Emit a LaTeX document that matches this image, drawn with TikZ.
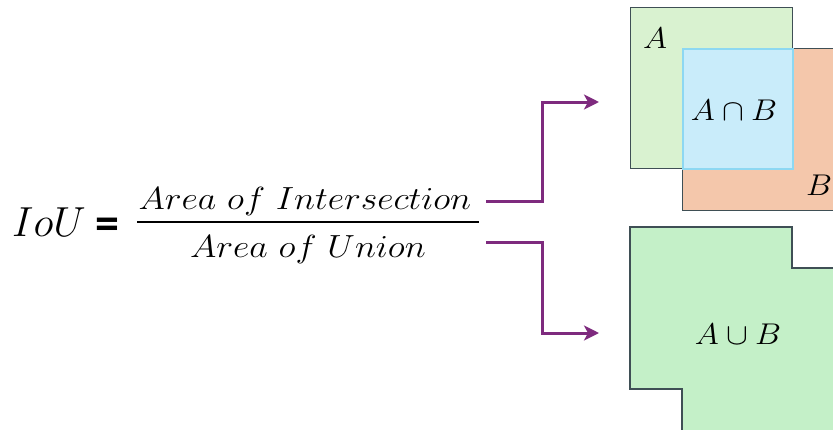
\RequirePackage{fix-cm}
\documentclass[tikz,border=0pt]{standalone}
\usepackage{graphicx}
\usepackage{fontspec}
\newfontfamily\eqfont{Carlito}
\usetikzlibrary{arrows.meta}
\newcommand\stretchx[2]{\scalebox{#1}[1]{#2}}
\definecolor{setA}{HTML}{D9F2D0}
\definecolor{setB}{HTML}{F4C7AB}
\definecolor{interfill}{HTML}{C9ECFA}
\definecolor{interline}{HTML}{8DD8F2}
\definecolor{unionfill}{HTML}{C4F0C8}
\definecolor{edge}{HTML}{3F4F55}
\definecolor{flow}{HTML}{7E2A7E}
\tikzset{
  setbox/.style={draw=edge, line width=1.3pt, rectangle, inner sep=0pt, anchor=north west},
  arr/.style={draw=flow, line width=3pt, -{Stealth[length=15pt,width=15pt,inset=4pt]}},
  formula/.style={inner sep=0pt, anchor=base, font=\fontsize{32}{36}\selectfont},
  setlabel/.style={inner sep=0pt, font=\fontsize{30}{34}\selectfont},
}
\begin{document}
\begin{tikzpicture}[x=1pt,y=-1pt]
\useasboundingbox (0,0) rectangle (833,429);

% IoU formula
\node[inner sep=0pt, anchor=base, font=\fontsize{42}{46}\selectfont] (iou) at (49,236) {$IoU$};
\node[inner sep=0pt, font=\eqfont\bfseries\fontsize{48}{52}\selectfont] (eq) at (107,229) {=};
\node[formula] (num) at (305,209) {\stretchx{1.12}{$Area\ of\ Intersection$}};
\node[formula] (den) at (308,257) {\stretchx{1.12}{$Area\ of\ Union$}};
\draw[line width=2pt] (137,222) coordinate (barL) -- (479,222) coordinate (barR);

% sets A and B with their intersection
\node[setbox, fill=setA, minimum width=162pt, minimum height=161pt] (boxA) at (630,7) {};
\node[setbox, fill=setB, minimum width=170pt, minimum height=162pt] (boxB) at (682,48) {};
\node[setbox, draw=interline, line width=1.6pt, fill=interfill, minimum width=110pt, minimum height=120pt] (inter) at (682,48) {};
\node[setlabel] (labA) at (655,38) {\stretchx{1.09}{$A$}};
\node[setlabel] (labB) at (819,185) {\stretchx{1.09}{$B$}};
\node[setlabel] (labI) at (734,110) {\stretchx{1.09}{$A\cap B$}};

% union of A and B
\draw[draw=edge, line width=1.3pt, fill=unionfill]
  (630,227) -- (792,227) -- (792,268) -- (850,268) -- (850,440)
  -- (682,440) -- (682,389) -- (630,389) -- cycle;
\node[setlabel] (labU) at (738,334) {\stretchx{1.09}{$A\cup B$}};

% connectors
\coordinate (s1) at (486,201);
\coordinate (t1) at (599,102);
\coordinate (s2) at (486,242);
\coordinate (t2) at (599,333);
\draw[arr] (s1) -- (542,201) |- (t1);
\draw[arr] (s2) -- (542,242) |- (t2);
\end{tikzpicture}
\end{document}
